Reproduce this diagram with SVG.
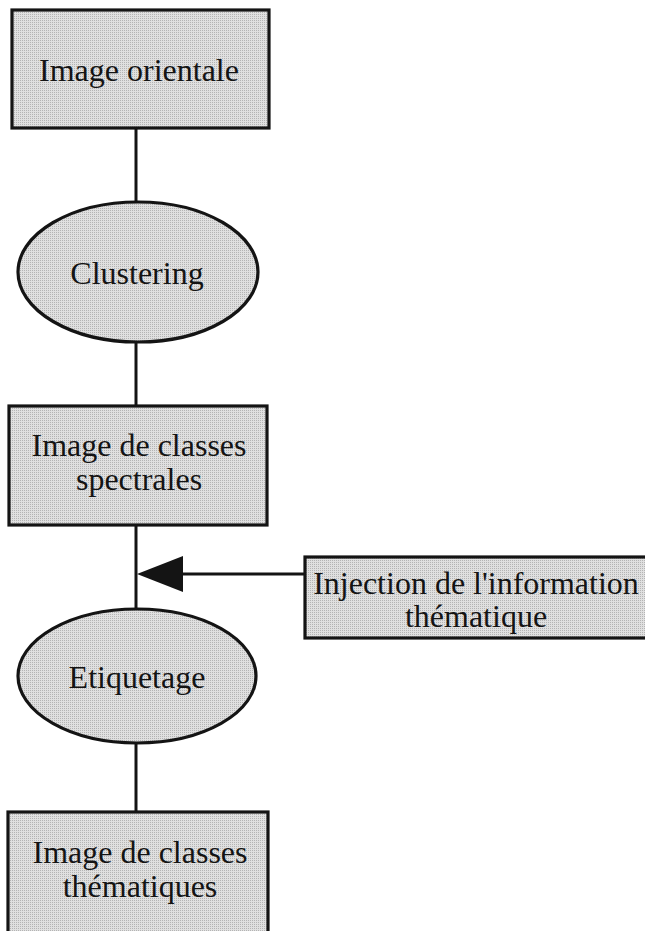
<svg xmlns="http://www.w3.org/2000/svg" width="645" height="931" viewBox="0 0 645 931">
<style>
.node{fill:url(#stipple);stroke:#141414;stroke-width:3.2}
.lbl{font-family:"Liberation Serif","Times New Roman",serif;font-size:32px;fill:#141414;text-anchor:middle}
.conn{stroke:#141414;stroke-width:3;fill:none}
</style>
<defs>
<pattern id="stipple" width="2" height="2" patternUnits="userSpaceOnUse">
<rect width="2" height="2" fill="#e0e0e0"/>
<rect width="1" height="1" fill="#b4b4b4"/>
</pattern>
</defs>
<rect width="645" height="931" fill="#ffffff"/>
<g id="connectors">
<line class="conn" x1="136" y1="128" x2="136" y2="202"/>
<line class="conn" x1="136" y1="342" x2="136" y2="405"/>
<line class="conn" x1="136" y1="525" x2="136" y2="609"/>
<line class="conn" x1="136" y1="742" x2="136" y2="812"/>
<line class="conn" x1="305" y1="574" x2="180" y2="574"/>
<path d="M137,574 L183,556 L183,592 Z" fill="#141414"/>
</g>
<g id="image-orientale">
<rect class="node" x="12" y="10" width="257" height="118"/>
<text class="lbl" x="139" y="81">Image orientale</text>
</g>
<g id="clustering">
<ellipse class="node" cx="138" cy="272" rx="120" ry="70"/>
<text class="lbl" x="137" y="284">Clustering</text>
</g>
<g id="classes-spectrales">
<rect class="node" x="9" y="406" width="258" height="119"/>
<text class="lbl" x="139" y="456">Image de classes</text>
<text class="lbl" x="139" y="490">spectrales</text>
</g>
<g id="injection">
<rect class="node" x="305" y="557" width="345" height="81"/>
<text class="lbl" x="476" y="594">Injection de l'information</text>
<text class="lbl" x="476" y="627">thématique</text>
</g>
<g id="etiquetage">
<ellipse class="node" cx="137" cy="676" rx="119" ry="67"/>
<text class="lbl" x="137" y="688">Etiquetage</text>
</g>
<g id="classes-thematiques">
<rect class="node" x="8" y="812" width="260" height="125"/>
<text class="lbl" x="140" y="863">Image de classes</text>
<text class="lbl" x="140" y="897">thématiques</text>
</g>
</svg>
